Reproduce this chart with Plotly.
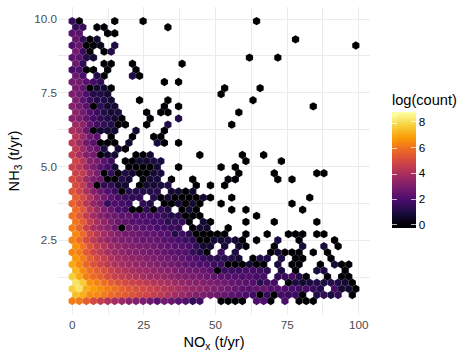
import plotly.graph_objects as go

_ = None
# log(count) per hexagon column, one list per hex row, top row first
row_00 = [1.5,0,_,_,_,_,0,_,_,_,0,_,_,_,_,_,_,_,_,_,_,_,_,_,_,_,0]
row_01 = [1.5,1.6,_,0,0,_,_,_,_,_,_,_,_,0]
row_02 = [2.3,2.3,_,_,_,0,0]
row_03 = [2.5,1.5,0,.7,_,_,_,_,_,_,_,_,_,_,_,_,_,_,_,_,_,_,_,_,_,_,_,_,_,_,_,0]
row_04 = [2,2.5,0,0,.4,_,1.1,_,_,_,_,_,_,_,_,_,_,_,_,_,_,_,_,_,_,_,_,_,_,_,_,_,_,_,_,_,_,_,_,_,0]
row_05 = [2.8,1.6,0,_,0,1.1]
row_06 = [2.3,2.3,1.1,.7,_,_,_,_,_,_,_,_,_,_,_,_,_,_,_,_,_,_,_,_,_,0,_,_,_,0]
row_07 = [2.6,1.4,_,_,0,0,_,_,0,_,_,_,_,_,_,0]
row_08 = [1.8,2,0,0,_,0,_,_,_,0]
row_09 = [2.6,1.9,_,1.1,0,_,_,_,1.1,0]
row_10 = [2.8,2.8,2.2,1.8,1.4,_,_,_,_,_,_,_,_,0,_,0]
row_11 = [2.8,2.4,0,.7,.7,0,_,_,_,_,_,_,_,_,_,_,_,_,_,_,_,0,_,_,_,_,0]
row_12 = [3,2.7,2,1.1,1.1,.7,_,_,_,_,_,_,_,_,_,_,_,_,_,_,_,0]
row_13 = [3,2.3,1.6,1.1,1.1,.7,_,_,_,0,_,_,_,0,_,_,_,_,_,_,_,_,_,_,_,0]
row_14 = [3.2,2.8,2.2,0,1.4,.7,.7,_,_,_,_,_,_,0,_,0,_,_,_,_,_,_,_,_,_,_,_,_,_,_,_,_,_,_,0]
row_15 = [3.3,2.8,2.1,1.6,1.1,.7,1,_,_,_,0,_,0,0,_,_,_,_,_,_,_,_,_,0]
row_16 = [3.2,3,2.4,1.8,1.4,1.1,.7,0,_,_,_,0,_,_,_,1.1]
row_17 = [3.7,3.4,2.4,1.7,1.4,1.1,0,0,_,_,0,_,_,1.1,_,_,_,_,_,_,_,_,0]
row_18 = [4,3.6,2.5,0,.7,.7,.7,_,_,.7,_,_,_,0]
row_19 = [4.2,3.6,2.7,2.2,_,0,_,_,0,_,_,0,0]
row_20 = [4.3,3.7,2.7,2.2,0,0,0,_,.7,_,_,_,.9,0,_,0]
row_21 = [4.4,3.7,2.9,2.5,1,_,.7,0]
row_22 = [4.5,3.9,3.1,2.8,0,.7,.7,_,_,0,0,.7,_,_,_,_,_,_,0,_,_,_,_,_,0,_,_,0]
row_23 = [4.8,4.2,3.2,2.9,2.3,1.6,_,0,0,.7,.7,1,.9,_,_,_,_,_,_,_,_,_,_,_,0,_,_,_,_,0]
row_24 = [4.7,4.3,3.6,2.9,2.3,1.8,.7,_,0,0,0,0,.7,_,_,0,_,_,_,_,_,0,_,0]
row_25 = [4.7,4.5,3.6,2.9,0,1.4,0,1,.7,0,0,.7,.9,_,_,_,_,_,_,_,_,_,_,0,_,_,_,_,0,_,_,_,_,_,0,0]
row_26 = [5,4.5,3.7,3,2.6,0,0,1.1,.7,_,0,.7,.9,_,0,_,_,0,_,_,_,_,0,0,_,_,_,_,_,0,_,0]
row_27 = [5,4.5,3.4,0,1.4,1.4,.7,.7,_,0,.7,.7,.9,1.1,_,_,_,0,_,0,_,0]
row_28 = [5.3,4.8,4,3.2,2.6,2,1.6,0,1.2,1.2,1.1,1.1,1.3,_,.7,.7,0,.7]
row_29 = [5.5,5,4.2,3.4,2.8,2.3,1.8,1.6,1.4,1.4,_,1.2,0,.7,0,0,0,0,.7,0,_,_,0,_,_,_,_,_,_,_,_,_,_,0]
row_30 = [5.6,5.1,4.3,3.5,3,1.5,2,1.8,1.6,_,1.4,1.1,_,0,0,.7,0,.7,0,_,_,0,_,_,_,_,_,_,_,_,_,0]
row_31 = [5.8,5.3,4.3,3.6,3,2.5,1.9,1.8,0,0,1.4,0,1.5,1,_,0,.7,0,_,_,_,_,0,_,0,_,_,_,_,_,_,_,0]
row_32 = [5.9,5.3,4.5,3.8,3.2,2.8,2.6,2.3,2.4,2,2,1.8,1.8,1.5,1.1,1.2,0,0,0,_,_,_,_,_,_,_,0]
row_33 = [6,5.5,4.6,3.9,3.4,3,2.6,2.4,2.1,2.1,2,1.8,1.8,1.3,1.5,1.5,0,_,.7,0,_,_,_,_,0,_,_,_,0,_,_,_,_,_,0]
row_34 = [6.2,5.6,4.7,4,3.6,3.2,2.7,0,2.5,2.4,2.2,2.2,1.9,1.8,1.6,1.5,_,0,.7,.7,_,_,0]
row_35 = [6.4,5.8,4.9,4.3,3.8,3.4,3.1,2.8,2.7,2.6,2.4,2.4,2.2,2.1,1.1,1.7,1.2,0,0,0,0,0,_,_,0,_,_,0,_,_,0,0,0,_,0,0]
row_36 = [6.3,5.8,5,4.4,3.9,3.5,3.2,3,2.9,2.7,2.5,2.5,2.4,2.2,2.1,1.9,1.6,1.3,0,0,.7,.7,1,.7,0,_,0,_,_,1,_,_,0,_,_,_,_,0]
row_37 = [6.6,6,5.2,4.6,4.2,3.7,3.4,3.2,3.1,2.9,2.8,2.7,2.5,2.4,2.2,2.1,2,1.4,.7,.7,_,.7,_,.7,0,_,_,_,0,_,_,_,.9,_,_,.9,_,0]
row_38 = [6.4,6.2,5.4,4.8,4.4,3.9,3.6,3.4,3.2,3.1,2.9,2.8,2.7,2.5,2.3,2.2,2.1,1.5,1,0,_,1.6,_,1,_,_,_,_,0,.7,0,0,0,_,0,_,0]
row_39 = [6.7,6.2,5.5,5,4.6,4.1,3.8,3.6,3.4,3.3,3.1,3,2.8,2.7,2.5,2.4,2.1,2,1.6,1.4,1.3,1.3,1.1,.7,_,0,1.1,1.1,_,1,_,0,0,_,_,_,0]
row_40 = [7,6.4,5.7,5.2,4.8,4.4,4.1,3.9,3.7,3.5,3.4,3.2,3.1,2.9,2.8,2.6,2.4,2.2,2,2,1.6,1.6,0,0,0,.7,0,0,_,.9,_,0,0,_,_,0,_,.9,0,0]
row_41 = [7.2,6.5,5.9,5.5,5.1,4.7,4.3,4.1,3.9,3.7,3.6,3.4,3.3,3.2,3,2.8,2.7,2.6,2.5,2.3,0,1.6,1.6,1.6,1.8,1.8,1.7,1.4,_,1,_,0,_,_,.9,1.1,_,_,0]
row_42 = [7.7,7,6.2,5.8,5.5,5,4.7,4.5,4.3,4.1,3.9,3.7,3.6,3.5,3.3,3.1,3,2.9,2.8,2.6,2.4,2.3,2.2,2.1,2,2.1,1.8,1.8,_,1.4,1.6,1.8,1.2,0,_,_,0,_,0,0]
row_43 = [8.1,7.6,6.6,6.3,5.9,5.5,5.2,5,4.8,4.6,4.4,4.2,4.1,3.9,3.7,3.5,3.3,3.2,3.1,3,2.8,2.7,2.5,2.4,2.2,2.1,1.3,1.7,1.8,_,0,1,.7,.9,1.1,1,1.2,1,.7,0]
row_44 = [7.7,8.1,7.1,6.8,6.5,6.2,5.9,5.6,5.3,5.1,4.9,4.7,4.5,4.3,4.1,3.9,3.7,3.5,3.4,3.2,3,2.9,2.7,2.5,2.3,2.2,2.4,2.5,2.1,2.1,2,1.9,1.7,1.8,1.6,1.1,_,1.8,.7,.7,0]
row_45 = [7.4,7.1,6.5,6.4,6.1,5.8,5.6,5.4,5.2,5,4.8,4.6,4.4,4.1,3.8,3.6,3.3,3.1,3,2.8,2.6,2.5,2.3,2.1,1.9,1.7,0,1.5,0,1.8,1.6,1.6,0,_,1.1,1.4,.9,1.4,_,0]
row_46 = [6.2,6.1,5.5,5,4.6,4.2,3.9,3.6,3.3,3.1,3,2.7,2.3,2.8,2.6,2.2,2.1,1.4,1.7,_,_,0,0,0,0,_,2,2,0,_,2,_,0,0,0]

rows = [row_00,row_01,row_02,row_03,row_04,row_05,row_06,row_07,row_08,row_09,
        row_10,row_11,row_12,row_13,row_14,row_15,row_16,row_17,row_18,row_19,
        row_20,row_21,row_22,row_23,row_24,row_25,row_26,row_27,row_28,row_29,
        row_30,row_31,row_32,row_33,row_34,row_35,row_36,row_37,row_38,row_39,
        row_40,row_41,row_42,row_43,row_44,row_45,row_46]

NOX_BIN = 2.474      # t/yr between columns
NH3_BIN = 0.2063     # t/yr between rows
NH3_TOP = 9.93

nox, nh3, logcount = [], [], []
for k, row in enumerate(rows):
    for c, v in enumerate(row):
        if v is None:
            continue
        nox.append((c + (0.5 if k % 2 else 0)) * NOX_BIN)
        nh3.append(NH3_TOP - k * NH3_BIN)
        logcount.append(v)

inferno = ['#000004','#1b0c41','#4a0c6b','#781c6d','#a52c60','#cf4446','#ed6925','#fb9b06','#f7d13d','#fcffa4']
CMIN, CMAX = -0.25, 8.75
stops = [[0, inferno[0]]]
for i, col in enumerate(inferno):
    stops.append([(0.25 + i / 9 * 8.7) / 9, col])
stops.append([1, inferno[-1]])

TICKS = dict(tickvals=[0, 2, 4, 6, 8], ticks="inside", ticklen=5, tickcolor="rgba(255,255,255,0.7)",
             outlinewidth=0, borderwidth=0, xpad=0, ypad=0, xanchor="left", yanchor="top", lenmode="pixels")

fig = go.Figure()
fig.add_trace(go.Scatter(
    x=nox, y=nh3, mode="markers", showlegend=False,
    marker=dict(
        symbol="hexagon", size=8.4, color=logcount, cmin=CMIN, cmax=CMAX,
        colorscale=stops, line=dict(width=0.35, color="rgba(255,255,255,0.3)"),
        colorbar=dict(
            title=dict(text="log(count)", side="top", font=dict(size=14.6, color="#000")),
            thickness=24, thicknessmode="pixels", len=137,
            x=1.0705, y=0.727,
            tickfont=dict(size=11.7, color="#000"), **TICKS,
        ),
    ),
))
# narrow second colour bar: its ticks give the left-hand tick marks of the legend
fig.add_trace(go.Scatter(
    x=[None], y=[None], mode="markers", showlegend=False, hoverinfo="skip",
    marker=dict(
        color=[0], cmin=CMIN, cmax=CMAX, colorscale=stops,
        colorbar=dict(
            thickness=5, thicknessmode="pixels", len=114,
            x=1.0705, y=0.6528, showticklabels=False, **TICKS,
        ),
    ),
))

GRID = "#ebebeb"
fig.update_xaxes(
    range=[-4.95, 103.9], tickvals=[0, 25, 50, 75, 100], ticks="", zeroline=False,
    showgrid=True, gridcolor=GRID, gridwidth=1.1,
    minor=dict(showgrid=True, gridcolor=GRID, gridwidth=0.55, tickvals=[12.5, 37.5, 62.5, 87.5], ticks=""),
    tickfont=dict(size=11.7, color="#4d4d4d"), ticklabelstandoff=1,
    title=dict(text="NO<sub>x</sub> (t/yr)", font=dict(size=14.6, color="#000"), standoff=7),
)
fig.update_yaxes(
    range=[-0.034, 10.41], tickvals=[2.5, 5, 7.5, 10], tickformat=".1f", ticks="", zeroline=False,
    showgrid=True, gridcolor=GRID, gridwidth=1.1,
    minor=dict(showgrid=True, gridcolor=GRID, gridwidth=0.55, tickvals=[1.25, 3.75, 6.25, 8.75], ticks=""),
    tickfont=dict(size=11.7, color="#4d4d4d"),
    title=dict(text="NH<sub>3</sub> (t/yr)", font=dict(size=14.6, color="#000"), standoff=11),
)
fig.update_layout(
    width=472, height=360, autosize=False,
    margin=dict(l=57.5, r=102, t=7, b=45.3, pad=0),
    paper_bgcolor="white", plot_bgcolor="white",
    font=dict(family="Liberation Sans, Arial, sans-serif"),
)
fig.write_html("out.html", post_script="document.body.style.margin='0';document.documentElement.style.overflow='hidden';",
               config={"displayModeBar": False})
